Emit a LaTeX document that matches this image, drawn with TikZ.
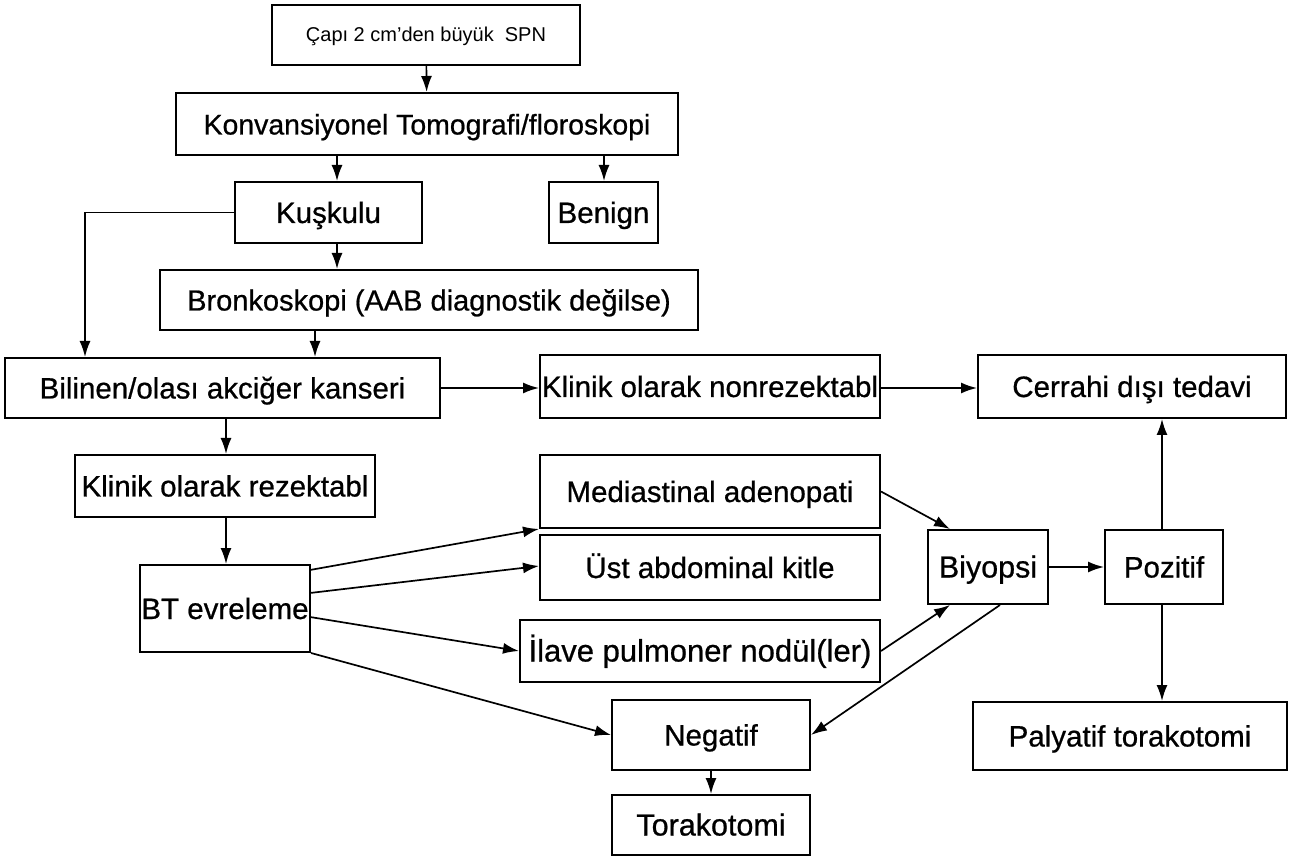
\documentclass[tikz,border=0pt]{standalone}
\usepackage{fontspec}
\setmainfont{Liberation Sans}
\usetikzlibrary{arrows.meta}
\newcommand{\bxfont}[1]{\fontsize{#1}{#1}\selectfont\addfontfeature{FakeBold=0.7}}
\begin{document}
\begin{tikzpicture}[x=1pt,y=-1pt,
  box/.style={draw, line width=2pt, inner sep=0pt, text height=21pt, text depth=0pt, font=\bxfont{29.5}},
  arr/.style={line width=1.7pt, -{Latex[length=16pt,width=11pt]}}]
\useasboundingbox (0,0) rectangle (1294,858);
\node[box, minimum width=308, minimum height=60, text height=14pt, font=\fontsize{20}{24}\selectfont] (cap) at (426,35) {Çapı 2 cm'den büyük~ SPN};
\node[box, minimum width=502, minimum height=62, font=\bxfont{28.4}] (konv) at (427,124) {Konvansiyonel Tomografi/floroskopi};
\node[box, minimum width=187, minimum height=61] (kusk) at (328.5,212.5) {Kuşkulu};
\node[box, minimum width=109, minimum height=61] (ben) at (603.5,212.5) {Benign};
\node[box, minimum width=538, minimum height=60, font=\bxfont{29}] (bronk) at (429,300) {Bronkoskopi (AAB diagnostik değilse)};
\node[box, minimum width=435, minimum height=60] (bil) at (222.5,388) {Bilinen/olası akciğer kanseri};
\node[box, minimum width=340, minimum height=63] (nonrez) at (710,386.5) {Klinik olarak nonrezektabl};
\node[box, minimum width=308, minimum height=63] (cer) at (1132,386.5) {Cerrahi dışı tedavi};
\node[box, minimum width=300, minimum height=62] (rez) at (225,486) {Klinik olarak rezektabl};
\node[box, minimum width=170, minimum height=87] (bt) at (225,608.5) {BT evreleme};
\node[box, minimum width=340, minimum height=73] (med) at (710,491.5) {Mediastinal adenopati};
\node[box, minimum width=340, minimum height=65] (ust) at (710,567.5) {Üst abdominal kitle};
\node[box, minimum width=360, minimum height=62, font=\bxfont{31}] (ila) at (700,651) {İlave pulmoner nodül(ler)};
\node[box, minimum width=198, minimum height=70] (neg) at (711,735) {Negatif};
\node[box, minimum width=198, minimum height=60, font=\bxfont{30.5}] (tor) at (711,825) {Torakotomi};
\node[box, minimum width=120, minimum height=74, font=\bxfont{30.5}] (biy) at (988,567) {Biyopsi};
\node[box, minimum width=118, minimum height=74] (poz) at (1164,567) {Pozitif};
\node[box, minimum width=314, minimum height=68] (pal) at (1130,736) {Palyatif torakotomi};
% connectors
\draw[arr] (cap) -- (konv);
\draw[arr] (337,0 |- konv.south) -- (337,0 |- kusk.north);
\draw[arr] (604,0 |- konv.south) -- (604,0 |- ben.north);
\draw[arr] (337,0 |- kusk.south) -- (337,0 |- bronk.north);
\coordinate (lc) at (85,212.5);
\draw[arr] (kusk.west) -- (lc) -- (85,0 |- bil.north);
\draw[arr] (315,0 |- bronk.south) -- (315,0 |- bil.north);
\draw[arr] (bil.east) -- (nonrez.west |- bil.east);
\draw[arr] (nonrez.east |- bil.east) -- (cer.west |- bil.east);
\draw[arr] (226,0 |- bil.south) -- (226,0 |- rez.north);
\draw[arr] (226,0 |- rez.south) -- (226,0 |- bt.north);
\draw[arr] (310,570) -- (med.south west);
\draw[arr] (310,593) -- (ust.west |- 0,566);
\draw[arr] (310,617) -- (ila.west);
\draw[arr] (bt.south east) -- (neg.west);
\draw[arr] (med.east) -- (950,0 |- biy.north);
\draw[arr] (ila.east) -- (950,0 |- biy.south);
\draw[arr] (1000,0 |- biy.south) -- (neg.east);
\draw[arr] (biy.east) -- (poz.west);
\draw[arr] (1162,0 |- poz.north) -- (1162,0 |- cer.south);
\draw[arr] (1162,0 |- poz.south) -- (1162,0 |- pal.north);
\draw[arr] (neg) -- (tor);
\end{tikzpicture}
\end{document}
